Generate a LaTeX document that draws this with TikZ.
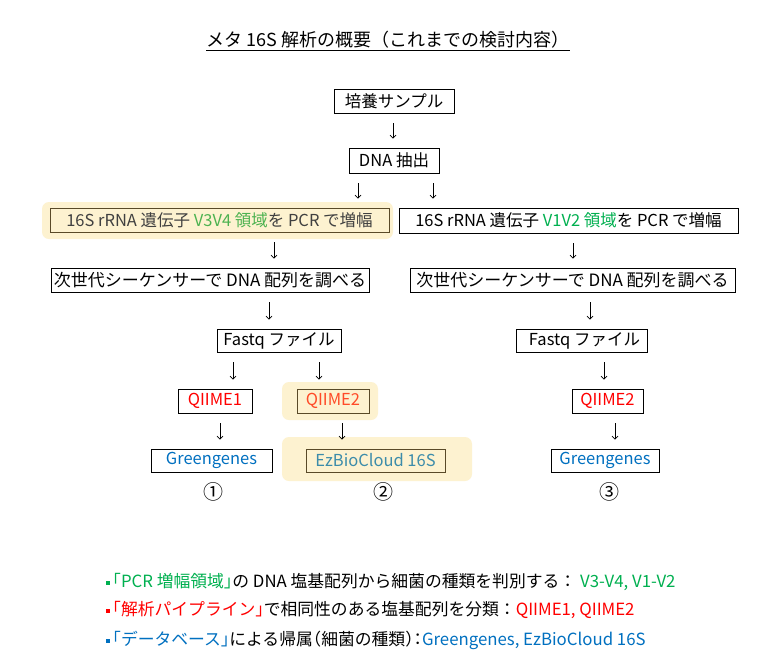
\documentclass[tikz,border=0pt]{standalone}
\usepackage{fontspec}
\setmainfont{Noto Sans CJK JP}
\usetikzlibrary{arrows.meta}
\definecolor{hl}{RGB}{253,242,208}
\definecolor{hlb}{RGB}{89,74,40}
\definecolor{gr}{RGB}{0,176,80}
\definecolor{grl}{RGB}{76,178,80}
\definecolor{rd}{RGB}{255,0,0}
\definecolor{org}{RGB}{255,75,40}
\definecolor{bl}{RGB}{0,112,192}
\definecolor{tl}{RGB}{60,140,170}
\definecolor{dg}{RGB}{64,64,64}
\newcommand\varr[3]{\coordinate (tmp) at (#1,0); \draw[arr] (tmp |- #2.south) -- (tmp |- #3.north);}
\newcommand\hw[1]{{\addfontfeatures{RawFeature=+halt}#1}}
\begin{document}
\begin{tikzpicture}[x=1pt,y=-1pt,
 bx/.style={draw=black,line width=0.8pt,inner sep=0pt,font=\fontsize{16.5}{18}\selectfont},
 hbx/.style={bx,draw=hlb},
 arr/.style={line width=0.7pt,-{Straight Barb[length=3pt,width=6pt]},shorten <=10pt,shorten >=9pt},
 hlt/.style={fill=hl,rounded corners=7pt},
 num/.style={font=\fontsize{20}{22}\selectfont,inner sep=0pt},
 note/.style={anchor=west,inner sep=0pt,font=\fontsize{16.8}{19}\selectfont}]
\useasboundingbox[fill=white] (0,0) rectangle (780,670);
% title
\node[inner sep=0pt,font=\fontsize{18}{20}\selectfont] (title) at (388,40) {メタ 16S 解析の概要（これまでの検討内容）};
\draw[line width=0.8pt] ([yshift=-2pt]title.south west) -- ([yshift=-2pt]title.south east);
% highlights
\fill[hlt] (42,202) rectangle (393,239);
\fill[hlt] (282,382) rectangle (378,420);
\fill[hlt] (282,437) rectangle (472,481);
% nodes
\node[bx,minimum width=120pt,minimum height=24pt] (pb) at (394,101) {培養サンプル};
\node[bx,minimum width=90pt,minimum height=25pt] (dna) at (394,160.5) {DNA 抽出};
\node[hbx,minimum width=339pt,minimum height=24pt,text=dg] (v34) at (219.5,220) {16S rRNA 遺伝子 \textcolor{grl}{V3V4 領域}を PCR で増幅};
\node[bx,minimum width=339pt,minimum height=25pt] (v12) at (568.5,220.5) {16S rRNA 遺伝子 \textcolor{gr}{V1V2 領域}を PCR で増幅};
\node[bx,minimum width=318pt,minimum height=24pt,font=\fontsize{17}{19}\selectfont] (seqL) at (210,280) {次世代シーケンサーで DNA 配列を調べる};
\node[bx,minimum width=325pt,minimum height=24pt,font=\fontsize{17}{19}\selectfont] (seqR) at (572.5,280) {次世代シーケンサーで DNA 配列を調べる};
\node[bx,minimum width=124pt,minimum height=23pt] (fqL) at (279,340.5) {Fastq ファイル};
\node[bx,minimum width=131pt,minimum height=23pt] (fqR) at (581.5,340.5) {\hspace{6pt}Fastq ファイル};
\node[bx,minimum width=74pt,minimum height=24pt,text=rd] (q1) at (215,401) {QIIME1};
\node[hbx,minimum width=72pt,minimum height=24pt,text=org] (q2m) at (333,401) {QIIME2};
\node[bx,minimum width=71pt,minimum height=24pt,text=rd] (q2r) at (607.5,401) {QIIME2};
\node[bx,minimum width=121pt,minimum height=23pt,text=bl] (gL) at (211.5,460.5) {Greengenes};
\node[hbx,minimum width=139pt,minimum height=23pt,text=tl] (ez) at (375.5,460.5) {EzBioCloud 16S};
\node[bx,minimum width=108pt,minimum height=23pt,text=bl] (gR) at (605,460.5) {Greengenes};
\node[num] (n1) at (213,492) {①};
\node[num] (n2) at (383,492) {②};
\node[num] (n3) at (609,492) {③};
% arrows
\varr{393}{pb}{dna}
\varr{358}{dna}{v34}
\varr{433}{dna}{v12}
\varr{274}{v34}{seqL}
\varr{573}{v12}{seqR}
\varr{269}{seqL}{fqL}
\varr{590}{seqR}{fqR}
\varr{233}{fqL}{q1}
\varr{319}{fqL}{q2m}
\varr{604}{fqR}{q2r}
\varr{220}{q1}{gL}
\varr{342}{q2m}{ez}
\varr{615}{q2r}{gR}
% notes
\node[fill=gr,minimum size=4pt,inner sep=0pt] (b1) at (108,583) {};
\node[fill=rd,minimum size=4pt,inner sep=0pt] (b2) at (108,611) {};
\node[fill=bl,minimum size=4pt,inner sep=0pt] (b3) at (108,641) {};
\node[note] (l1) at (104,582) {\textcolor{gr}{「PCR 増幅領域\hw{」}}の DNA 塩基配列から細菌の種類を判別する：\textcolor{gr}{\hspace{4pt}V3-V4, V1-V2}};
\node[note] (l2) at (104,610) {\textcolor{rd}{「解析パイプライン\hw{」}}で相同性のある塩基配列を分類：\textcolor{rd}{QIIME1, QIIME2}};
\node[note] (l3) at (104,640) {\textcolor{bl}{「データベース\hw{」}}による帰属\hw{（}細菌の種類\hw{）：}\textcolor{bl}{Greengenes, EzBioCloud 16S}};
\end{tikzpicture}
\end{document}
